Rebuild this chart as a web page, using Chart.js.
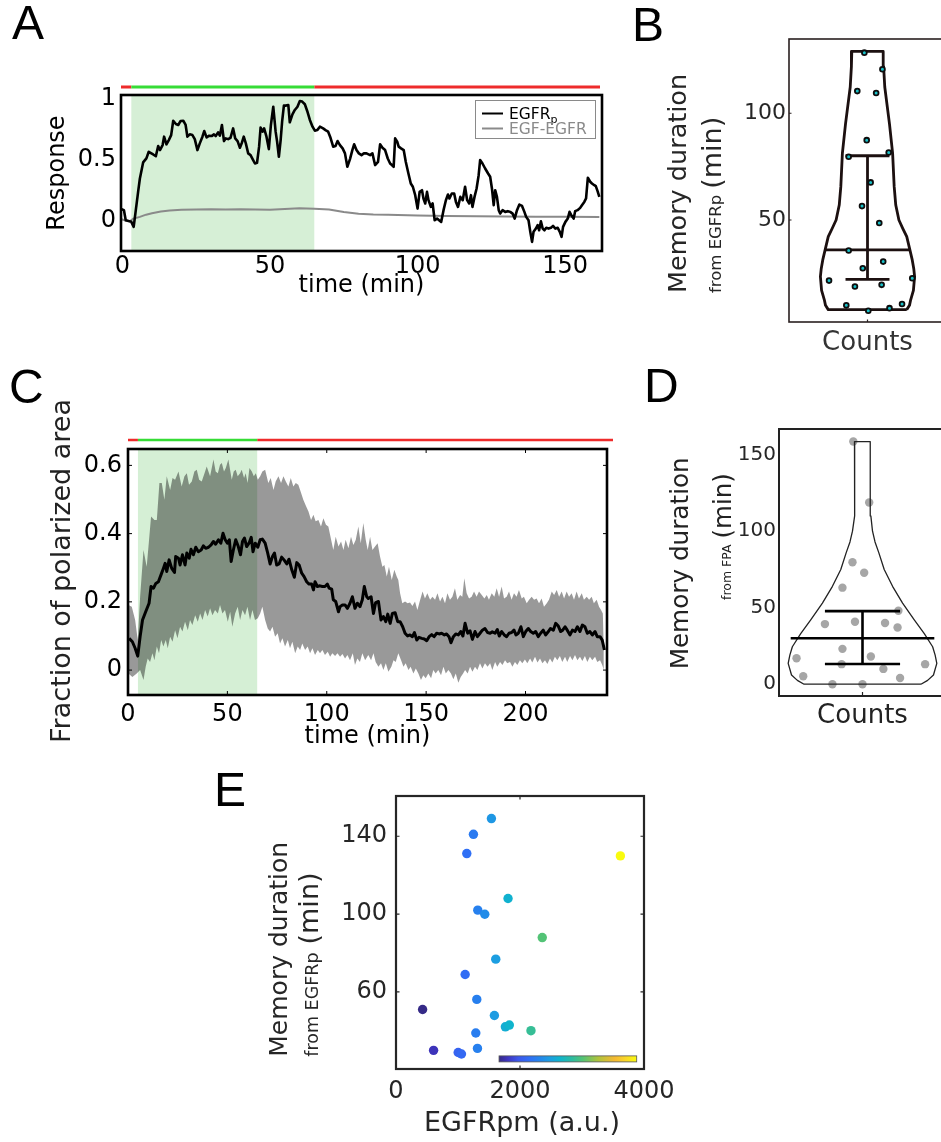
<!DOCTYPE html>
<html>
<head>
<meta charset="utf-8">
<title>EGFR memory figure</title>
<script src="https://cdn.jsdelivr.net/npm/chart.js@4.4.1/dist/chart.umd.min.js"></script>
<style>
  html, body { margin: 0; padding: 0; background: #fff; }
  #page { position: relative; width: 941px; height: 1142px; overflow: hidden; }
  #page canvas { position: absolute; left: 0; top: 0; }
  .tag { position: absolute; font-family: "Liberation Sans", Arial, sans-serif; font-size: 48px; line-height: 1; color: #000; }
</style>
</head>
<body>
<div id="page">
  <canvas id="cA" width="960" height="1142"></canvas>
  <canvas id="cB" width="960" height="1142"></canvas>
  <canvas id="cC" width="960" height="1142"></canvas>
  <canvas id="cD" width="960" height="1142"></canvas>
  <canvas id="cE" width="960" height="1142"></canvas>
  <div class="tag" style="left:12px;top:-1px">A</div>
  <div class="tag" style="left:632px;top:1px">B</div>
  <div class="tag" style="left:9px;top:363px">C</div>
  <div class="tag" style="left:644px;top:362px">D</div>
  <div class="tag" style="left:214px;top:766px">E</div>
</div>
<script>
// ---------- panel A: single cell response ----------
const aTime = [-0.3,0.5,1.1,3.0,3.8,5.3,5.9,7.0,8.1,8.9,10.4,11.3,12.1,12.7,13.6,14.1,14.9,15.7,16.5,17.2,
  18.1,18.9,19.7,20.6,21.4,22.0,22.8,23.7,24.5,25.4,26.2,27.1,27.7,28.5,29.4,30.2,31.0,31.6,32.4,33.0,
  33.7,34.4,35.0,35.8,36.6,37.5,38.2,39.0,39.8,40.5,41.1,41.8,42.6,43.4,44.1,44.9,45.6,46.3,46.8,47.5,
  48.0,48.8,49.6,50.3,51.1,51.9,52.4,53.0,53.6,54.1,54.7,55.4,56.2,56.7,57.6,58.4,59.3,60.1,60.9,61.8,
  62.6,63.5,64.4,65.2,66.0,66.9,68.0,68.8,69.7,70.5,71.4,72.2,72.9,73.7,74.6,75.4,76.2,77.1,77.9,78.5,
  79.3,80.1,81.0,81.8,82.7,
  83.9,84.7,85.6,86.6,87.3,88.1,89.0,89.9,90.7,91.3,91.9,92.4,93.1,93.6,94.4,95.3,96.0,96.9,97.7,98.4,
  99.2,100.0,100.7,101.5,102.0,102.6,103.2,103.7,104.5,105.1,105.8,106.6,107.3,108.0,108.8,109.6,110.3,110.8,111.6,112.4,
  113.0,113.7,114.5,115.3,116.1,116.8,117.5,118.1,118.6,119.3,120.0,120.7,121.2,122.0,122.9,123.9,124.6,125.2,125.8,126.3,
  126.9,127.5,128.0,128.8,129.7,130.6,131.4,132.2,132.9,133.7,134.5,135.4,136.2,136.8,137.6,138.2,138.8,139.3,140.1,140.7,
  141.2,141.8,142.4,143.0,143.6,144.4,145.2,145.9,146.7,147.5,148.2,148.8,149.3,150.1,150.9,151.5,152.1,152.9,153.4,154.2,
  155.1,155.7,156.5,157.1,157.7,158.5,159.1,159.9,160.4,161.0,161.6];
const aEgfrp = [0.093,0.085,0.002,-0.011,-0.052,0.235,0.345,0.477,0.51,0.564,0.542,0.528,0.611,0.578,0.619,0.688,0.625,0.66,0.701,0.819,
  0.792,0.784,0.817,0.819,0.784,0.688,0.707,0.701,0.668,0.578,0.633,0.688,0.734,0.682,0.696,0.693,0.707,0.693,0.723,0.696,
  0.784,0.652,0.674,0.668,0.679,0.756,0.674,0.652,0.597,0.641,0.688,0.633,0.551,0.537,0.504,0.468,0.474,0.606,0.762,0.729,
  0.756,0.688,0.586,0.784,0.934,0.729,0.647,0.523,0.66,0.811,0.943,0.943,0.948,0.806,0.871,0.907,0.934,0.981,0.976,0.954,
  0.899,0.825,0.77,0.737,0.742,0.77,0.756,0.742,0.729,0.679,0.606,0.611,0.652,0.619,0.592,0.551,0.441,0.504,0.578,0.625,
  0.578,0.551,0.537,0.551,0.551,
  0.537,0.551,0.455,0.482,0.625,0.597,0.578,0.509,0.468,0.455,0.441,0.674,0.647,0.606,0.592,0.578,0.482,0.386,0.304,0.277,
  0.208,0.098,0.235,0.249,0.181,0.14,0.235,0.167,0.112,0.14,0.002,0.016,0.002,-0.011,0.085,0.167,0.213,0.181,0.222,0.222,
  0.153,0.112,0.194,0.167,0.277,0.167,0.14,0.208,0.112,0.194,0.263,0.372,0.496,0.468,0.427,0.386,0.359,0.263,0.126,0.249,
  0.194,0.085,0.057,0.085,0.071,0.077,0.071,0.057,0.016,0.085,0.131,0.12,0.071,0.03,0.002,-0.093,-0.175,-0.093,-0.066,-0.038,
  -0.08,-0.006,-0.066,-0.08,-0.06,-0.066,-0.06,-0.044,-0.066,-0.06,-0.093,-0.134,-0.052,-0.011,0.016,0.071,0.044,0.016,0.077,0.085,
  0.104,0.126,0.153,0.181,0.351,0.318,0.304,0.29,0.282,0.241,0.194];
const aGrayTime = [-0.3,1,2.5,3.6,5.9,8,10,13,16,20,25,30,35,40,45,50,55,60,65,70,75,80,85,90,100,110,120,130,140,150,161.6];
const aGray = [0.01,0.0,-0.006,0.015,0.03,0.048,0.06,0.074,0.083,0.088,0.091,0.092,0.09,0.092,0.09,0.088,0.095,0.1,0.097,0.09,0.07,0.056,0.05,0.048,0.042,0.038,0.035,0.033,0.032,0.031,0.03];
const aStim = [3, 65];
const aXTicks = [0, 50, 100, 150];
const aYTicks = [0, 0.5, 1];

// ---------- panel B: memory duration from EGFRp ----------
const bPtsX = [-0.04,0.19,-0.13,0.11,-0.01,-0.24,0.27,0.04,-0.07,0.15,-0.24,0.2,-0.06,-0.49,-0.16,0.18,0.57,-0.27,0.01,0.28,0.44];
const bPtsY = [128.4,120.6,110.4,109.5,87.4,79.6,81.6,67.6,56.5,48.6,35.7,30.5,27.4,21.6,18.8,19.6,22.7,10,7.5,8.7,10.6];
const bViolinY = [8,10,12.6,17,23.5,27,31.3,36,42.2,46,50,57,65.6,81.2,95,112.3,122,129];
const bViolinHalf = [0.5,0.535,0.55,0.585,0.6,0.59,0.57,0.54,0.5,0.45,0.4,0.36,0.34,0.32,0.28,0.22,0.205,0.2];
const bMean = 36, bMeanHalf = 0.55;
const bErr = [22.2, 80.1], bCapHalf = 0.28;
const bYTicks = [50, 100];

// ---------- panel C: fraction of polarized area ----------
const cTime = [0.55,2.2,3.6,4.9,6.1,7.3,8.9,10.6,11.6,12.8,14.0,15.3,16.6,17.8,18.7,19.5,20.7,22.0,23.4,24.0,
  25.4,26.2,27.4,28.7,29.6,30.8,31.7,32.9,34.1,35.4,36.8,37.9,39.1,40.5,41.8,43.0,44.1,45.5,46.7,47.8,
  48.9,50.0,51.0,51.9,53.0,54.2,55.5,56.6,57.6,58.6,59.7,60.9,62.0,62.9,64.0,65.3,66.5,67.6,69.0,70.3,
  71.5,72.7,73.7,74.8,76.0,77.3,78.5,79.9,81.0,82.4,83.7,84.9,86.1,87.4,88.6,89.9,91.1,92.4,93.3,94.1,
  95.3,96.6,97.8,99.1,100.3,101.2,102.5,103.3,104.5,105.9,106.7,107.9,109.2,110.4,111.7,112.9,114.2,115.4,116.7,117.9,
  118.9,120.1,
  120.9,122.3,123.5,124.6,126.0,127.3,128.5,129.7,130.7,131.9,133.0,134.4,135.7,136.9,138.2,139.4,140.7,141.9,143.1,144.1,
  145.3,146.4,147.8,149.1,150.3,151.5,152.8,154.0,155.3,156.5,157.8,159.2,160.3,161.5,162.5,163.7,164.9,166.2,167.4,168.5,
  169.6,170.9,172.1,173.3,174.6,175.8,177.1,178.3,179.6,180.9,182.2,183.3,184.7,185.8,186.8,188.0,189.3,190.5,191.7,193.0,
  194.2,195.2,196.4,197.7,198.9,200.1,201.4,202.6,203.9,205.1,206.4,207.6,208.9,210.1,211.5,212.6,214.0,215.2,216.5,217.7,
  218.7,219.9,221.0,222.4,223.6,224.9,226.1,227.4,228.6,229.9,231.1,232.4,233.6,235.0,236.1,237.5,238.6,239.7];
const cMean = [0.093,0.083,0.064,0.041,0.098,0.147,0.171,0.196,0.245,0.24,0.254,0.259,0.279,0.298,0.313,0.289,0.323,0.298,0.286,0.333,
  0.328,0.308,0.338,0.308,0.343,0.328,0.354,0.338,0.36,0.347,0.352,0.364,0.357,0.36,0.367,0.377,0.369,0.382,0.372,0.401,
  0.382,0.372,0.382,0.318,0.352,0.382,0.362,0.338,0.377,0.387,0.362,0.372,0.389,0.347,0.372,0.36,0.382,0.384,0.372,0.343,
  0.311,0.333,0.343,0.308,0.311,0.331,0.323,0.311,0.325,0.294,0.272,0.315,0.308,0.284,0.274,0.259,0.252,0.252,0.235,0.259,
  0.245,0.247,0.245,0.245,0.252,0.24,0.237,0.206,0.201,0.171,0.186,0.191,0.191,0.181,0.196,0.215,0.181,0.196,0.186,0.206,
  0.245,0.215,
  0.21,0.215,0.166,0.198,0.201,0.147,0.157,0.142,0.164,0.137,0.166,0.168,0.142,0.142,0.127,0.108,0.1,0.103,0.098,0.11,
  0.088,0.096,0.093,0.091,0.086,0.098,0.104,0.098,0.108,0.106,0.108,0.103,0.106,0.098,0.08,0.098,0.106,0.103,0.113,0.1,
  0.137,0.108,0.115,0.09,0.113,0.098,0.108,0.117,0.122,0.11,0.108,0.112,0.108,0.119,0.1,0.113,0.103,0.098,0.108,0.11,
  0.117,0.103,0.108,0.127,0.098,0.113,0.122,0.113,0.108,0.113,0.098,0.108,0.117,0.103,0.113,0.122,0.117,0.137,0.129,0.113,
  0.117,0.127,0.117,0.103,0.117,0.113,0.127,0.113,0.132,0.127,0.108,0.113,0.103,0.113,0.098,0.098,0.088,0.059];
const cUpTime = [0.2,1.9,3.6,4.9,6.1,7.8,9.4,10.6,11.6,13.3,14.5,15.8,17.0,18.3,19.5,21.2,22.4,23.7,25.4,27.0,
  28.4,29.6,30.7,32.1,33.4,34.6,35.8,37.1,38.5,39.6,41.3,43.0,44.1,45.2,46.3,47.2,48.3,49.2,50.5,52.2,
  53.2,54.2,55.2,56.4,57.2,58.4,59.2,60.2,61.1,62.3,63.3,64.3,65.3,66.5,67.6,69.0,70.6,71.8,73.2,74.3,
  75.7,77.0,78.2,79.4,80.7,81.9,83.2,84.4,85.7,87.1,88.2,89.6,90.8,92.1,93.3,94.4,95.8,97.1,98.3,99.6,
  100.8,102.2,103.3,104.5,105.9,107.2,108.4,109.5,110.9,112.2,113.4,114.6,115.9,117.1,118.4,119.6,
  120.6,121.8,123.0,124.3,125.6,126.8,128.0,129.0,130.2,131.3,132.7,134.0,135.2,136.0,136.9,138.0,139.4,140.7,141.9,143.1,
  144.4,145.6,147.0,148.2,149.4,150.6,152.0,153.2,154.5,155.7,157.0,158.2,159.5,160.7,162.0,163.2,164.5,165.7,167.1,168.2,
  169.2,170.4,171.6,172.9,174.1,175.4,176.6,178.0,179.3,180.5,181.6,183.0,184.3,185.5,186.7,188.0,189.2,190.5,191.7,193.0,
  194.2,195.5,196.7,198.1,199.2,200.6,201.8,203.1,204.3,205.6,206.8,208.1,209.3,210.7,211.8,213.2,214.4,215.7,216.9,218.2,
  219.4,220.7,221.9,223.2,224.4,225.7,226.9,228.3,229.4,230.8,232.0,233.3,234.4,235.8,237.0,238.0,238.9,239.4];
const cUp = [0.191,0.186,0.147,0.088,0.215,0.352,0.303,0.382,0.45,0.44,0.44,0.548,0.548,0.499,0.568,0.528,0.563,0.558,0.582,0.538,
  0.568,0.577,0.543,0.553,0.582,0.587,0.558,0.553,0.577,0.597,0.568,0.617,0.582,0.577,0.602,0.607,0.582,0.592,0.617,0.558,
  0.582,0.587,0.568,0.577,0.587,0.563,0.577,0.548,0.592,0.582,0.568,0.577,0.558,0.568,0.582,0.587,0.548,0.563,0.528,0.553,
  0.568,0.548,0.568,0.553,0.538,0.563,0.538,0.548,0.543,0.519,0.499,0.48,0.465,0.44,0.455,0.436,0.44,0.421,0.445,0.426,
  0.421,0.382,0.352,0.391,0.362,0.377,0.352,0.382,0.357,0.391,0.367,0.382,0.421,0.372,0.431,0.382,
  0.352,0.391,0.352,0.362,0.372,0.333,0.303,0.308,0.274,0.303,0.264,0.294,0.274,0.264,0.225,0.196,0.201,0.196,0.198,0.188,
  0.201,0.176,0.206,0.23,0.21,0.225,0.206,0.215,0.206,0.225,0.201,0.215,0.196,0.225,0.206,0.215,0.24,0.206,0.22,0.215,
  0.269,0.225,0.21,0.215,0.23,0.215,0.23,0.22,0.21,0.22,0.206,0.225,0.215,0.24,0.215,0.245,0.21,0.215,0.23,0.206,
  0.225,0.215,0.235,0.21,0.215,0.196,0.206,0.215,0.206,0.21,0.196,0.21,0.186,0.196,0.206,0.23,0.22,0.235,0.215,0.23,
  0.21,0.23,0.215,0.225,0.206,0.23,0.21,0.225,0.206,0.215,0.206,0.215,0.196,0.206,0.186,0.176,0.166,0.069];
const cLoTime = [0.2,2.2,4.4,6.1,7.8,8.9,9.9,11.1,12.3,13.3,14.5,15.6,16.7,17.8,19.0,20.0,21.2,22.4,23.7,24.9,
  26.2,27.4,28.7,30.1,31.2,32.4,33.8,35.1,36.3,37.5,38.8,40.1,41.3,42.5,43.8,45.2,46.3,47.5,48.8,50.2,
  51.4,52.5,53.9,55.2,56.4,57.6,58.9,60.1,61.4,62.6,63.9,65.3,66.5,67.6,69.0,70.3,71.5,72.7,74.0,75.3,
  76.5,77.7,79.0,80.4,81.5,82.7,84.1,85.4,86.6,87.7,89.1,90.4,91.6,92.8,94.1,95.5,96.6,97.8,99.1,100.5,
  101.7,102.8,104.2,105.4,106.7,107.9,109.2,110.4,111.7,113.1,114.2,115.4,116.7,117.9,119.3,
  120.9,122.3,123.5,124.6,126.0,127.3,128.5,129.7,131.0,132.5,133.6,134.7,136.0,137.4,138.6,139.7,141.1,142.2,143.6,144.8,
  146.1,147.4,148.6,149.8,151.1,152.5,153.6,154.8,156.1,157.5,158.7,159.9,161.2,162.5,163.7,164.9,166.2,167.4,168.6,169.6,
  170.9,172.1,173.3,174.6,175.8,177.1,178.3,179.6,180.9,182.2,183.3,184.7,185.8,187.2,188.4,189.7,190.8,192.2,193.4,194.7,
  195.9,197.2,198.4,199.7,200.9,202.3,203.4,204.8,206.0,207.3,208.5,209.8,211.0,212.3,213.5,214.8,216.0,217.3,218.5,219.9,
  221.0,222.4,223.6,224.9,226.1,227.4,228.6,229.9,231.1,232.4,233.6,235.0,236.1,237.5,238.6,239.4];
const cLo = [-0.01,-0.02,-0.01,0,-0.029,0.01,0.034,0.024,0.049,0.029,0.069,0.049,0.088,0.069,0.088,0.064,0.098,0.083,0.117,0.093,
  0.127,0.113,0.142,0.117,0.147,0.132,0.161,0.142,0.166,0.147,0.176,0.157,0.181,0.161,0.176,0.166,0.191,0.166,0.176,0.142,
  0.171,0.127,0.166,0.186,0.147,0.176,0.161,0.186,0.147,0.176,0.147,0.152,0.166,0.186,0.147,0.122,0.113,0.127,0.098,0.108,
  0.078,0.093,0.069,0.088,0.064,0.083,0.049,0.069,0.059,0.078,0.059,0.069,0.049,0.064,0.044,0.059,0.049,0.059,0.044,0.054,
  0.039,0.049,0.041,0.049,0.039,0.047,0.034,0.044,0.029,0.049,0.015,0.034,0.024,0.049,0.029,
  0.044,0.029,0.049,0.024,0.01,0.02,0,0.02,-0.005,0.01,0.029,0.024,0.049,0.029,0.01,0.02,0,0.01,-0.01,0.005,
  -0.01,-0.029,-0.015,-0.024,-0.01,-0.024,0,-0.01,0,-0.015,0.01,-0.01,0,-0.01,-0.027,-0.01,-0.037,-0.02,-0.01,0,
  -0.01,0.01,-0.005,0.01,0,0.02,0.005,0.02,0.01,0.02,0,0.024,0.01,0.024,0.015,0.029,0.02,0.024,0.01,0.024,
  0.015,0.029,0.02,0.031,0.02,0.034,0.022,0.039,0.022,0.034,0.02,0.029,0.018,0.034,0.022,0.039,0.029,0.041,0.024,0.039,
  0.024,0.041,0.029,0.044,0.029,0.039,0.027,0.041,0.024,0.039,0.029,0.039,0.024,0.029,0.015,0];
const cStim = [5, 65];
const cXTicks = [0, 50, 100, 150, 200];
const cYTicks = [0, 0.2, 0.4, 0.6];

// ---------- panel D: memory duration from FPA ----------
const dPtsX = [-0.11,0.08,-0.12,0.02,-0.24,0.43,-0.45,-0.09,0.27,0.42,-0.24,-0.79,0.1,-0.25,0.75,0.25,-0.71,0.45,-0.36,0];
const dPtsY = [158.6,118.8,79.7,72.9,63.1,48,39.3,40.8,40,37.1,23.1,17,18.1,13.1,13.1,10,5.2,4.1,0,0];
const dViolinY = [0,2.5,6,13.6,19,24.5,33,42,53,64,75,86,93,100,110,120,140,158.6];
const dViolinHalf = [0.7,0.78,0.85,0.89,0.87,0.84,0.74,0.62,0.48,0.36,0.26,0.195,0.15,0.12,0.1,0.092,0.09,0.096];
const dMean = 30, dMeanHalf = 0.86;
const dErr = [13.2, 47.8], dCapHalf = 0.45;
const dYTicks = [0, 50, 100, 150];

// ---------- panel E: duration vs EGFRpm ----------
const eX = [1539,1249,1142,3619,1807,1319,1432,2359,1609,1115,1303,429,1587,1764,1828,2177,1287,1314,606,1003,1056];
const eY = [149.1,141,131.1,129.9,108,102,99.9,87.9,76.8,68.9,56.1,50.9,47.8,42,42.9,40,38.8,30.9,29.9,28.8,28];
const eXTicks = [0, 2000, 4000];
const eYTicks = [60, 100, 140];

// parula-like colour map
const cmapStops = [
  [0.00, [53, 42, 135]], [0.06, [62, 52, 190]], [0.14, [60, 88, 235]], [0.22, [48, 110, 245]],
  [0.30, [35, 135, 235]], [0.37, [28, 158, 225]], [0.44, [15, 180, 205]], [0.53, [45, 188, 160]],
  [0.61, [85, 195, 115]], [0.72, [175, 195, 60]], [0.84, [245, 185, 50]], [0.92, [250, 215, 40]],
  [1.00, [249, 251, 14]]
];

const W = 960, H = 1142;
const FONT = '"DejaVu Sans", Verdana, sans-serif';
Chart.defaults.font.family = FONT;

const xy = (xs, ys) => xs.map((v, i) => ({ x: v, y: ys[i] }));

function cmap(t) {
  t = Math.max(0, Math.min(1, t));
  for (let i = 1; i < cmapStops.length; i++) {
    if (t <= cmapStops[i][0]) {
      const [t0, c0] = cmapStops[i - 1], [t1, c1] = cmapStops[i];
      const f = (t - t0) / (t1 - t0);
      const c = c0.map((v, k) => Math.round(v + (c1[k] - v) * f));
      return 'rgb(' + c.join(',') + ')';
    }
  }
  return 'rgb(249,251,14)';
}

function outline(ys, hs) {
  const pts = [];
  for (let i = 0; i < ys.length; i++) pts.push({ x: hs[i], y: ys[i] });
  for (let i = ys.length - 1; i >= 0; i--) pts.push({ x: -hs[i], y: ys[i] });
  pts.push({ x: hs[0], y: ys[0] });
  return pts;
}

function axis(min, max, ticks, fmt, o) {
  return {
    type: 'linear', min, max,
    grid: { display: false, drawTicks: false }, border: { display: false },
    ticks: { autoSkip: false, maxRotation: 0, minRotation: 0, padding: o.pad, color: o.color,
             font: { size: o.size, family: FONT }, callback: fmt },
    afterBuildTicks: s => { s.ticks = ticks.map(v => ({ value: v })); },
    afterFit: s => { if (s.isHorizontal()) s.height = 50; else s.width = 60; }
  };
}

function makeChart(id, datasets, box, xs, ys, plugin) {
  return new Chart(document.getElementById(id), {
    type: 'scatter',
    data: { datasets },
    options: {
      responsive: false, animation: false, events: [],
      layout: { padding: { left: box.l - 60, top: box.t, right: W - box.r, bottom: H - box.b - 50 } },
      plugins: { legend: { display: false }, tooltip: { enabled: false } },
      scales: { x: xs, y: ys }
    },
    plugins: [plugin]
  });
}

function frame(ctx, ca, lw, col) {
  ctx.save();
  ctx.strokeStyle = col; ctx.lineWidth = lw;
  ctx.strokeRect(ca.left, ca.top, ca.right - ca.left, ca.bottom - ca.top);
  ctx.restore();
}

// tick marks on the box edges, len > 0 points inward
function edgeTicks(chart, xv, yv, len, lw, col, sides) {
  const { ctx, chartArea: ca, scales: { x, y } } = chart;
  ctx.save();
  ctx.strokeStyle = col; ctx.lineWidth = lw;
  ctx.beginPath();
  xv.forEach(v => {
    const p = x.getPixelForValue(v);
    if (sides.includes('b')) { ctx.moveTo(p, ca.bottom); ctx.lineTo(p, ca.bottom - len); }
    if (sides.includes('t')) { ctx.moveTo(p, ca.top); ctx.lineTo(p, ca.top + len); }
  });
  yv.forEach(v => {
    const p = y.getPixelForValue(v);
    if (sides.includes('l')) { ctx.moveTo(ca.left, p); ctx.lineTo(ca.left + len, p); }
    if (sides.includes('r')) { ctx.moveTo(ca.right, p); ctx.lineTo(ca.right - len, p); }
  });
  ctx.stroke();
  ctx.restore();
}

function htext(ctx, s, x, y, size, color) {
  ctx.save();
  ctx.font = size + 'px ' + FONT; ctx.fillStyle = color;
  ctx.textAlign = 'center'; ctx.textBaseline = 'middle';
  ctx.fillText(s, x, y);
  ctx.restore();
}

// vertical (bottom-to-top) label made of parts [text, size, gapBefore]; baseline at page x
function vtext(ctx, parts, x, y, anchor, color) {
  ctx.save();
  const ws = parts.map(p => { ctx.font = p[1] + 'px ' + FONT; return ctx.measureText(p[0]).width; });
  let total = 0;
  parts.forEach((p, i) => { total += ws[i] + (i ? (p[2] || 0) : 0); });
  ctx.translate(x, y);
  ctx.rotate(-Math.PI / 2);
  ctx.fillStyle = color; ctx.textAlign = 'left'; ctx.textBaseline = 'alphabetic';
  let pos = anchor === 'center' ? -total / 2 : 0;
  parts.forEach((p, i) => {
    if (i) pos += p[2] || 0;
    ctx.font = p[1] + 'px ' + FONT;
    ctx.fillText(p[0], pos, 0);
    pos += ws[i];
  });
  ctx.restore();
}

function stimBar(ctx, xa, x0, x1, xb, y, lw) {
  ctx.save();
  ctx.lineWidth = lw;
  ctx.strokeStyle = '#ee2b2b';
  ctx.beginPath(); ctx.moveTo(xa, y); ctx.lineTo(x0, y); ctx.moveTo(x1, y); ctx.lineTo(xb, y); ctx.stroke();
  ctx.strokeStyle = '#36dc36';
  ctx.beginPath(); ctx.moveTo(x0, y); ctx.lineTo(x1, y); ctx.stroke();
  ctx.restore();
}

function shade(chart, range, color) {
  const { ctx, chartArea: ca, scales: { x } } = chart;
  const x0 = x.getPixelForValue(range[0]), x1 = x.getPixelForValue(range[1]);
  ctx.save();
  ctx.fillStyle = color;
  ctx.fillRect(x0, ca.top, x1 - x0, ca.bottom - ca.top);
  ctx.restore();
}

const lineDs = (data, color, width, order) =>
  ({ data, showLine: true, borderColor: color, borderWidth: width, pointRadius: 0, order, borderJoinStyle: 'round' });

// ---------- A ----------
const boxA = { l: 121, t: 95, r: 602, b: 251 };
makeChart('cA', [
  lineDs(xy(aTime, aEgfrp), '#000', 2.6, 0),
  lineDs(xy(aGrayTime, aGray), '#8a8a8a', 2, 1)
], boxA,
  axis(-0.5, 162.5, aXTicks, v => String(v), { size: 24, color: '#000', pad: 1 }),
  axis(-0.25, 1.03, aYTicks, v => String(v), { size: 24, color: '#000', pad: 5 }),
  {
    id: 'decoA',
    beforeDatasetsDraw(chart) { shade(chart, aStim, '#d6efd6'); },
    afterDraw(chart) {
      const { ctx, chartArea: ca, scales: { x } } = chart;
      stimBar(ctx, ca.left, x.getPixelForValue(aStim[0]), x.getPixelForValue(aStim[1]), ca.right - 2, ca.top - 8, 3);
      frame(ctx, ca, 2.6, '#000');
      // legend
      ctx.save();
      ctx.strokeStyle = '#8a8a8a'; ctx.lineWidth = 1;
      ctx.strokeRect(475.5, 100.5, 120, 38);
      ctx.lineWidth = 2;
      ctx.strokeStyle = '#000';
      ctx.beginPath(); ctx.moveTo(482, 113.5); ctx.lineTo(503, 113.5); ctx.stroke();
      ctx.strokeStyle = '#8a8a8a';
      ctx.beginPath(); ctx.moveTo(482, 128.5); ctx.lineTo(503, 128.5); ctx.stroke();
      ctx.textAlign = 'left'; ctx.textBaseline = 'alphabetic';
      ctx.font = '15.5px ' + FONT; ctx.fillStyle = '#000';
      ctx.fillText('EGFR', 509, 119);
      const w = ctx.measureText('EGFR').width;
      ctx.font = '11px ' + FONT;
      ctx.fillText('p', 509 + w, 123);
      ctx.font = '15.5px ' + FONT; ctx.fillStyle = '#8a8a8a';
      ctx.fillText('EGF-EGFR', 509, 134);
      ctx.restore();
      vtext(ctx, [['Response', 24]], 64, 173, 'center', '#000');
      htext(ctx, 'time (min)', (ca.left + ca.right) / 2, 286, 24, '#000');
    }
  });

// ---------- B ----------
const boxB = { l: 789, t: 39, r: 946, b: 322 };
makeChart('cB', [
  { data: xy(bPtsX, bPtsY), pointRadius: 2.4, backgroundColor: '#19c0c8', borderColor: '#0d0d0d', borderWidth: 1.8, order: 0 },
  lineDs(outline(bViolinY, bViolinHalf), '#1c1010', 2.8, 1),
  lineDs([{ x: -bMeanHalf, y: bMean }, { x: bMeanHalf, y: bMean }], '#1c1010', 2.8, 1),
  lineDs([{ x: 0, y: bErr[0] }, { x: 0, y: bErr[1] }], '#1c1010', 2.8, 1),
  lineDs([{ x: -bCapHalf, y: bErr[0] }, { x: bCapHalf, y: bErr[0] }], '#1c1010', 2.8, 1),
  lineDs([{ x: -bCapHalf, y: bErr[1] }, { x: bCapHalf, y: bErr[1] }], '#1c1010', 2.8, 1)
], boxB,
  axis(-1, 1, [0], () => 'Counts', { size: 26, color: '#333', pad: 6 }),
  axis(2.2, 134.8, bYTicks, v => String(v), { size: 22, color: '#262626', pad: 3 }),
  {
    id: 'decoB',
    afterDraw(chart) {
      const { ctx, chartArea: ca } = chart;
      frame(ctx, ca, 1.6, '#2a2020');
      edgeTicks(chart, [0], bYTicks, 2.5, 1.2, '#2a2020', 'bl');
      vtext(ctx, [['Memory duration', 25.5]], 686, 293, 'start', '#262626');
      vtext(ctx, [['from EGFRp', 16.5], ['(min)', 27, 6]], 721, 293, 'start', '#262626');
    }
  });

// ---------- C ----------
const boxC = { l: 128, t: 449, r: 607, b: 695 };
makeChart('cC', [
  { data: xy(cUpTime, cUp), showLine: true, borderWidth: 0, borderColor: 'rgba(0,0,0,0)', pointRadius: 0, fill: false, order: 3 },
  { data: xy(cLoTime, cLo), showLine: true, borderWidth: 0, borderColor: 'rgba(0,0,0,0)', pointRadius: 0, fill: '-1',
    backgroundColor: 'rgba(0,0,0,0.4)', order: 2 },
  lineDs(xy(cTime, cMean), '#000', 3, 1)
], boxC,
  axis(0, 241, cXTicks, v => String(v), { size: 24, color: '#000', pad: 5 }),
  axis(-0.073, 0.648, cYTicks, v => String(v), { size: 24, color: '#000', pad: 6 }),
  {
    id: 'decoC',
    beforeDatasetsDraw(chart) { shade(chart, cStim, '#d5efd5'); },
    afterDraw(chart) {
      const { ctx, chartArea: ca, scales: { x } } = chart;
      stimBar(ctx, ca.left, x.getPixelForValue(cStim[0]), x.getPixelForValue(cStim[1]), ca.right + 6, ca.top - 9, 2.5);
      frame(ctx, ca, 2.6, '#000');
      edgeTicks(chart, cXTicks.slice(1), cYTicks, 4, 1, '#000', 'tblr');
      vtext(ctx, [['Fraction of polarized area', 27]], 70, 571, 'center', '#222');
      htext(ctx, 'time (min)', (ca.left + ca.right) / 2, 737, 24, '#000');
    }
  });

// ---------- D ----------
const boxD = { l: 779, t: 429, r: 946, b: 696 };
makeChart('cD', [
  { data: xy(dPtsX, dPtsY), pointRadius: 4.2, backgroundColor: '#a6a6a6', borderWidth: 0, order: 2 },
  lineDs(outline(dViolinY, dViolinHalf), '#222', 1.3, 1),
  lineDs([{ x: -dMeanHalf, y: dMean }, { x: dMeanHalf, y: dMean }], '#000', 2.6, 0),
  lineDs([{ x: 0, y: dErr[0] }, { x: 0, y: dErr[1] }], '#000', 2.6, 0),
  lineDs([{ x: -dCapHalf, y: dErr[0] }, { x: dCapHalf, y: dErr[0] }], '#000', 2.6, 0),
  lineDs([{ x: -dCapHalf, y: dErr[1] }, { x: dCapHalf, y: dErr[1] }], '#000', 2.6, 0)
], boxD,
  axis(-1, 1, [0], () => 'Counts', { size: 26, color: '#222', pad: 5 }),
  axis(-7.7, 166.8, dYTicks, v => String(v), { size: 20, color: '#262626', pad: 3 }),
  {
    id: 'decoD',
    afterDraw(chart) {
      const { ctx, chartArea: ca } = chart;
      frame(ctx, ca, 2, '#222');
      edgeTicks(chart, [0], [], 4, 1.2, '#222', 'b');
      vtext(ctx, [['Memory duration', 24.7]], 688, 563.3, 'center', '#222');
      vtext(ctx, [['from FPA', 12.5], ['(min)', 24.5, 6]], 731, 600, 'start', '#222');
    }
  });

// ---------- E ----------
const boxE = { l: 396, t: 796, r: 644, b: 1069 };
const eMin = Math.min(...eX), eMax = Math.max(...eX);
makeChart('cE', [
  { data: xy(eX, eY), pointRadius: 4.7, borderWidth: 0,
    backgroundColor: c => cmap((eX[c.dataIndex] - eMin) / (eMax - eMin)) }
], boxE,
  axis(0, 4000, eXTicks, v => String(v), { size: 24, color: '#262626', pad: 8 }),
  axis(20.3, 160.7, eYTicks, v => String(v), { size: 24, color: '#262626', pad: 9 }),
  {
    id: 'decoE',
    afterDraw(chart) {
      const { ctx, chartArea: ca } = chart;
      const w = ca.right - ca.left, h = ca.bottom - ca.top;
      // colour bar inside the axes
      const x0 = ca.left + 0.4155 * w, x1 = ca.left + 0.9706 * w;
      const y0 = ca.top + 0.952 * h, y1 = ca.top + 0.974 * h;
      const g = ctx.createLinearGradient(x0, 0, x1, 0);
      cmapStops.forEach(s => g.addColorStop(s[0], 'rgb(' + s[1].join(',') + ')'));
      ctx.save();
      ctx.fillStyle = g;
      ctx.fillRect(x0, y0, x1 - x0, y1 - y0);
      ctx.strokeStyle = '#555'; ctx.lineWidth = 0.8;
      ctx.strokeRect(x0, y0, x1 - x0, y1 - y0);
      ctx.restore();
      frame(ctx, ca, 2.2, '#262626');
      edgeTicks(chart, eXTicks, eYTicks, 3.5, 1.2, '#262626', 'tblr');
      vtext(ctx, [['Memory duration', 25]], 287, 1056.7, 'start', '#262626');
      vtext(ctx, [['from EGFRp', 17.5], ['(min)', 27, 8]], 318, 1056.7, 'start', '#262626');
      htext(ctx, 'EGFRpm (a.u.)', 522, 1124, 27, '#262626');
    }
  });
</script>
</body>
</html>
